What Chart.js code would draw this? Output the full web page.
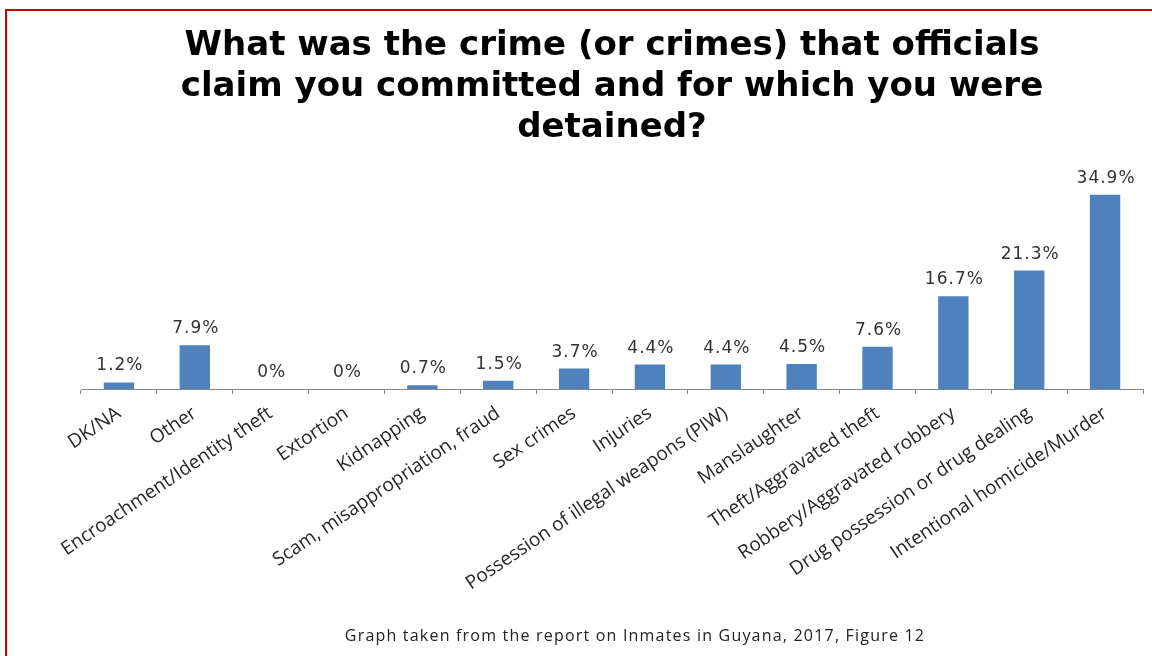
<!DOCTYPE html>
<html>
<head>
<meta charset="utf-8">
<script src="https://cdn.jsdelivr.net/npm/chart.js@4.4.1/dist/chart.umd.min.js"></script>
<style>
    html, body { margin: 0; padding: 0; background: #fff; }
    #wrap { position: relative; width: 1152px; height: 656px; overflow: hidden; }
    #frame {
        position: absolute; left: 5px; top: 9px; width: 1200px; height: 700px;
        border: 2px solid #d00000; pointer-events: none;
    }
    canvas { position: absolute; left: 0; top: 0; }
</style>
</head>
<body>
<div id="wrap">
    <canvas id="crimeChart" width="1152" height="656"></canvas>
    <div id="frame"></div>
</div>
<script>
// Kategórie a hodnoty (v %)
const crimeLabels = [
    "DK/NA",
    "Other",
    "Encroachment/Identity theft",
    "Extortion",
    "Kidnapping",
    "Scam, misappropriation, fraud",
    "Sex crimes",
    "Injuries",
    "Possession of illegal weapons (PIW)",
    "Manslaughter",
    "Theft/Aggravated theft",
    "Robbery/Aggravated robbery",
    "Drug possession or drug dealing",
    "Intentional homicide/Murder"
];
const crimeValues = [1.2, 7.9, 0, 0, 0.7, 1.5, 3.7, 4.4, 4.4, 4.5, 7.6, 16.7, 21.3, 34.9];
const valueLabels = ["1.2%", "7.9%", "0%", "0%", "0.7%", "1.5%", "3.7%", "4.4%", "4.4%", "4.5%", "7.6%", "16.7%", "21.3%", "34.9%"];

const titleLines = [
    "What was the crime (or crimes) that officials",
    "claim you committed and for which you were",
    "detained?"
];
const footerText = "Graph taken from the report on Inmates in Guyana, 2017, Figure 12";

// Popisky hodnôt nad stĺpcami
const valueLabelPlugin = {
    id: "valueLabels",
    afterDatasetsDraw(chart) {
        const ctx = chart.ctx;
        const meta = chart.getDatasetMeta(0);
        ctx.save();
        ctx.font = "17px 'DejaVu Sans'";
        ctx.letterSpacing = "1px";
        ctx.fillStyle = "#333333";
        ctx.textAlign = "center";
        ctx.textBaseline = "alphabetic";
        meta.data.forEach((bar, i) => {
            ctx.fillText(valueLabels[i], bar.x + 1, bar.y - 12);
        });
        ctx.restore();
    }
};

// Poznámka pod grafom
const footerPlugin = {
    id: "footerNote",
    afterDraw(chart) {
        const ctx = chart.ctx;
        ctx.save();
        ctx.font = "16px 'Open Sans'";
        ctx.letterSpacing = "1.2px";
        ctx.fillStyle = "#222222";
        ctx.textAlign = "center";
        ctx.textBaseline = "middle";
        ctx.fillText(footerText, 635, 636);
        ctx.restore();
    }
};

const ctx = document.getElementById("crimeChart").getContext("2d");
const crimeChart = new Chart(ctx, {
    type: "bar",
    data: {
        labels: crimeLabels,
        datasets: [{
            data: crimeValues,
            backgroundColor: "#4f81bd",
            borderWidth: 0,
            barPercentage: 0.4,
            categoryPercentage: 1.0
        }]
    },
    options: {
        responsive: false,
        animation: false,
        layout: {
            padding: { left: 81, right: 9, top: 26, bottom: 53 }
        },
        plugins: {
            legend: { display: false },
            tooltip: { enabled: false },
            title: {
                display: true,
                text: titleLines,
                color: "#000000",
                font: { family: "'DejaVu Sans'", size: 34, weight: "bold", lineHeight: 1.2 },
                padding: { top: 0, bottom: 18 }
            }
        },
        scales: {
            x: {
                grid: {
                    offset: true,
                    drawOnChartArea: false,
                    drawTicks: true,
                    tickLength: 5,
                    color: "#868686"
                },
                border: { color: "#868686", width: 1 },
                ticks: {
                    autoSkip: false,
                    minRotation: 34,
                    maxRotation: 34,
                    color: "#262626",
                    padding: 8,
                    font: { family: "'Open Sans'", size: 19 }
                }
            },
            y: {
                display: false,
                min: 0,
                max: 40
            }
        }
    },
    plugins: [valueLabelPlugin, footerPlugin]
});
</script>
</body>
</html>
